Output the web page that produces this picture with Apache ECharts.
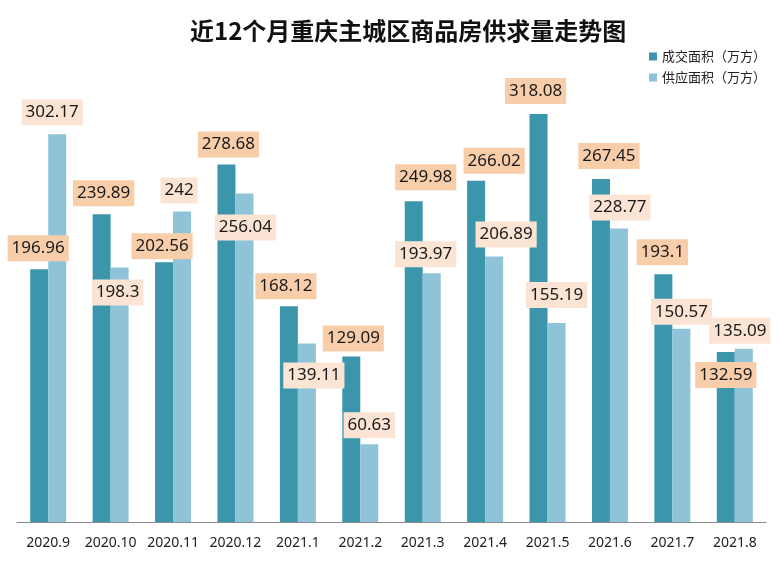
<!DOCTYPE html>
<html>
<head>
<meta charset="utf-8">
<script src="https://cdn.jsdelivr.net/npm/echarts@6/dist/echarts.min.js"></script>
<style>html,body{margin:0;padding:0;background:#fff}#c{width:778px;height:564px}</style>
</head>
<body>
<div id="c"></div>
<script>
const titleText = '近12个月重庆主城区商品房供求量走势图';
const categories = ['2020.9','2020.10','2020.11','2020.12','2021.1','2021.2','2021.3','2021.4','2021.5','2021.6','2021.7','2021.8'];
const seriesNames = ['成交面积（万方）','供应面积（万方）'];
const dealArea = [196.96, 239.89, 202.56, 278.68, 168.12, 129.09, 249.98, 266.02, 318.08, 267.45, 193.1, 132.59];
const supplyArea = [302.17, 198.3, 242, 256.04, 139.11, 60.63, 193.97, 206.89, 155.19, 228.77, 150.57, 135.09];

// label layout offsets (relative to 'top' position)
const dealLabelOffsets = [[-1,-3],[2,-3],[-2,2],[2,-2],[-3,-2],[2,0],[12,-6],[18,-2],[-3,-5],[8,-5],[-1,-4],[0,41]];
const supplyLabelOffsets = [[-5,-4],[-2,43],[-3,-3],[1,52],[7,50],[0,-1],[-6,-1],[12,-4],[0,-10],[1,-3],[0,1],[-4,0]];

const chart = echarts.init(document.getElementById('c'));
function build(vals, offs, bg) {
  return vals.map((v, i) => ({
    value: v,
    label: { offset: offs[i], backgroundColor: bg }
  }));
}
const labelBase = {
  show: true,
  position: 'top',
  distance: 5,
  fontFamily: '"Noto Sans", sans-serif',
  fontSize: 17,
  lineHeight: 20,
  color: '#1a1a1a',
  padding: [3, 4],
  formatter: p => String(p.value)
};
chart.setOption({
  backgroundColor: '#ffffff',
  animation: false,
  title: {
    text: titleText,
    left: 185,
    top: 14,
    textStyle: { fontFamily: '"Noto Sans CJK SC", sans-serif', fontSize: 24, fontWeight: 'bold', color: '#111' }
  },
  legend: {
    orient: 'vertical',
    left: 644,
    top: 45,
    itemWidth: 8,
    itemHeight: 8,
    itemGap: 8,
    icon: 'rect',
    textStyle: { fontFamily: '"Noto Sans CJK SC", sans-serif', fontSize: 13, color: '#222' },
    data: seriesNames
  },
  grid: { left: 17, right: 12, top: 73, bottom: 42, containLabel: false },
  xAxis: {
    type: 'category',
    data: categories,
    axisLine: { lineStyle: { color: '#8a8a8a', width: 1 } },
    axisTick: { show: false },
    axisLabel: { fontFamily: '"Noto Sans", sans-serif', fontSize: 14, color: '#222', margin: 14, interval: 0 }
  },
  yAxis: { type: 'value', min: 0, max: 350, show: false, splitLine: { show: false } },
  series: [
    {
      name: seriesNames[0],
      type: 'bar',
      barWidth: 18,
      barGap: '0%',
      itemStyle: { color: '#3b96ac' },
      label: labelBase,
      data: build(dealArea, dealLabelOffsets, '#f8cdaa')
    },
    {
      name: seriesNames[1],
      type: 'bar',
      barWidth: 18,
      barGap: '0%',
      itemStyle: { color: '#8fc3d8' },
      label: labelBase,
      data: build(supplyArea, supplyLabelOffsets, '#fbe4d3')
    }
  ]
});
</script>
</body>
</html>
